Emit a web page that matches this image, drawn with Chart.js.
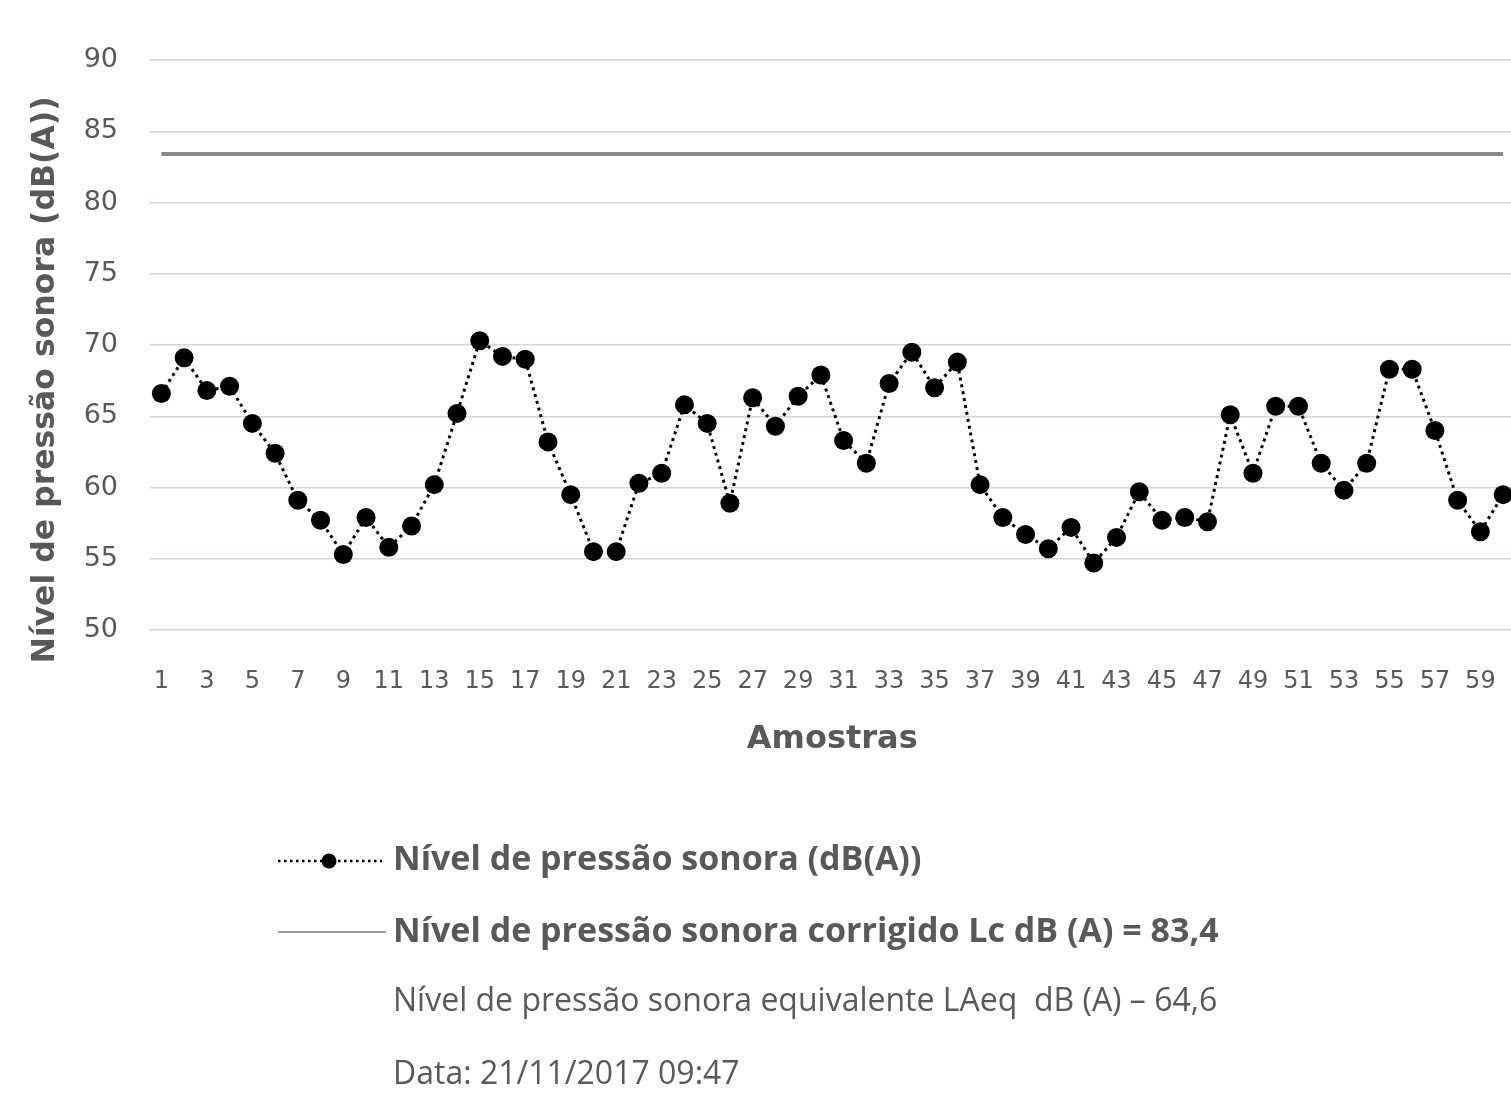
<!DOCTYPE html>
<html>
<head>
<meta charset="utf-8">
<script src="https://cdn.jsdelivr.net/npm/chart.js@4"></script>
<style>
  html, body { margin: 0; padding: 0; background: #ffffff; overflow: hidden; width: 1511px; height: 1100px; }
  #c { position: absolute; left: 0; top: 0; }
</style>
</head>
<body>
<canvas id="c" width="1524" height="1100"></canvas>
<script>
// ---- data ----
const samples = ['1','2','3','4','5','6','7','8','9','10','11','12','13','14','15','16','17','18','19','20',
  '21','22','23','24','25','26','27','28','29','30','31','32','33','34','35','36','37','38','39','40',
  '41','42','43','44','45','46','47','48','49','50','51','52','53','54','55','56','57','58','59','60'];
const soundLevel = [66.6, 69.1, 66.8, 67.1, 64.5, 62.4, 59.1, 57.7, 55.3, 57.9,
  55.8, 57.3, 60.2, 65.2, 70.3, 69.2, 69.0, 63.2, 59.5, 55.5,
  55.5, 60.3, 61.0, 65.8, 64.5, 58.9, 66.3, 64.3, 66.4, 67.9,
  63.3, 61.7, 67.3, 69.5, 67.0, 68.8, 60.2, 57.9, 56.7, 55.7,
  57.2, 54.7, 56.5, 59.7, 57.7, 57.9, 57.6, 65.1, 61.0, 65.7,
  65.7, 61.7, 59.8, 61.7, 68.3, 68.3, 64.0, 59.1, 56.9, 59.5];
const lcValue = 83.4;
const laeqValue = '64,6';
const yTicks = [50, 55, 60, 65, 70, 75, 80, 85, 90];
const xTickLabels = ['1','3','5','7','9','11','13','15','17','19','21','23','25','27','29',
  '31','33','35','37','39','41','43','45','47','49','51','53','55','57','59'];

const seriesName = 'Nível de pressão sonora (dB(A))';
const lcName = 'Nível de pressão sonora corrigido Lc dB (A) = ' + String(lcValue).replace('.', ',');
const laeqText = 'Nível de pressão sonora equivalente LAeq  dB (A) – ' + laeqValue;
const dateText = 'Data: 21/11/2017 09:47';
const xTitle = 'Amostras';
const yTitle = 'Nível de pressão sonora (dB(A))';

const GRAY = '#595959';

const titleAndLegendPlugin = {
  id: 'customLegend',
  afterDraw(chart) {
    const ctx = chart.ctx;
    ctx.save();
    // y axis title
    ctx.save();
    ctx.translate(46, 380);
    ctx.rotate(-Math.PI / 2);
    ctx.fillStyle = GRAY;
    ctx.textAlign = 'center';
    ctx.textBaseline = 'middle';
    ctx.font = "bold 31.5px 'DejaVu Sans'";
    ctx.fillText(yTitle, 0, 0);
    ctx.restore();

    // row 1: dotted line with marker
    ctx.strokeStyle = '#000';
    ctx.lineWidth = 2.5;
    ctx.setLineDash([2.5, 3.5]);
    ctx.beginPath();
    ctx.moveTo(278, 861); ctx.lineTo(382, 861);
    ctx.stroke();
    ctx.setLineDash([]);
    ctx.fillStyle = '#000';
    ctx.beginPath();
    ctx.arc(329, 861, 7.5, 0, Math.PI * 2);
    ctx.fill();
    // row 2: solid line
    ctx.strokeStyle = '#9a9a9a';
    ctx.lineWidth = 2;
    ctx.beginPath();
    ctx.moveTo(278, 932); ctx.lineTo(386, 932);
    ctx.stroke();

    ctx.fillStyle = GRAY;
    ctx.textAlign = 'left';
    ctx.textBaseline = 'middle';
    ctx.font = "bold 34px 'Open Sans'";
    ctx.fillText(seriesName, 393, 860);
    ctx.fillText(lcName, 393, 932);
    ctx.font = "32px 'Open Sans'";
    ctx.fillText(laeqText, 393, 1002);
    ctx.fillText(dateText, 393, 1075);
    ctx.restore();
  }
};

const whiteBg = {
  id: 'whiteBg',
  beforeDraw(chart) {
    const ctx = chart.ctx;
    ctx.save();
    ctx.fillStyle = '#fff';
    ctx.fillRect(0, 0, chart.width, chart.height);
    ctx.restore();
  }
};

new Chart(document.getElementById('c'), {
  type: 'line',
  data: {
    labels: samples,
    datasets: [
      {
        label: seriesName,
        data: soundLevel,
        borderColor: '#000',
        backgroundColor: '#000',
        borderWidth: 3,
        borderDash: [3, 4],
        pointRadius: 9.5,
        pointBorderWidth: 0,
        pointBackgroundColor: '#000',
        tension: 0,
        fill: false,
        clip: false
      },
      {
        label: lcName,
        data: [{ x: samples[0], y: lcValue }, { x: samples[samples.length - 1], y: lcValue }],
        borderColor: '#8a8a8a',
        borderWidth: 4,
        pointRadius: 0,
        tension: 0,
        fill: false
      }
    ]
  },
  options: {
    responsive: false,
    animation: false,
    events: [],
    layout: { padding: { top: 60, left: 0, right: 0, bottom: 341 } },
    plugins: {
      legend: { display: false },
      tooltip: { enabled: false },
      title: { display: false }
    },
    scales: {
      x: {
        type: 'category',
        offset: true,
        grid: { display: false, drawTicks: true, tickLength: 37, color: 'rgba(0,0,0,0)' },
        border: { display: false },
        ticks: {
          autoSkip: false,
          maxRotation: 0,
          minRotation: 0,
          padding: 0,
          color: GRAY,
          font: { family: "'DejaVu Sans'", size: 24 },
          callback: function (value, index) {
            const lab = samples[index];
            return xTickLabels.includes(lab) ? lab : '';
          }
        },
        title: {
          display: true,
          text: xTitle,
          color: GRAY,
          font: { family: "'DejaVu Sans'", size: 32, weight: 'bold' },
          padding: { top: 0, bottom: 0 }
        },
        afterFit(scale) { scale.height = 129; }
      },
      y: {
        min: yTicks[0],
        max: yTicks[yTicks.length - 1],
        afterBuildTicks(scale) { scale.ticks = yTicks.map(v => ({ value: v })); },
        grid: { color: '#dcd4d4', lineWidth: 1.5, drawTicks: false },
        border: { display: false },
        ticks: {
          padding: 32,
          color: GRAY,
          font: { family: "'DejaVu Sans'", size: 27 }
        },
        title: { display: false },
        afterFit(scale) { scale.width = 150; }
      }
    }
  },
  plugins: [whiteBg, titleAndLegendPlugin]
});
</script>
</body>
</html>
